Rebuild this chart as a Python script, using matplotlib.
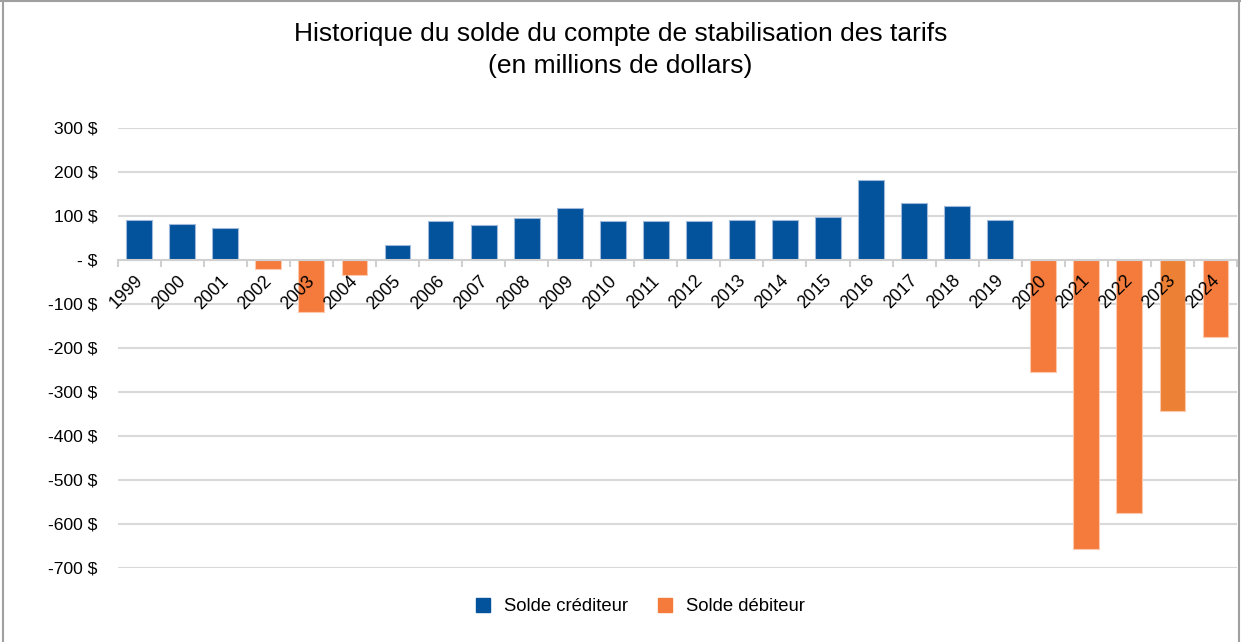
import matplotlib
matplotlib.use("Agg")
import matplotlib.pyplot as plt
from matplotlib.patches import Patch
from matplotlib.lines import Line2D
import matplotlib.transforms as mtransforms
import numpy as np

plt.rcParams['font.family'] = ['Liberation Sans', 'DejaVu Sans']

years = [str(y) for y in range(1999, 2025)]
values = [91, 81, 72, -22, -119, -35, 34, 88, 78, 95, 118, 88, 88, 88, 91, 91,
          98, 182, 129, 122, 91, -256, -658, -574, -343, -176]
yticks = [300, 200, 100, 0, -100, -200, -300, -400, -500, -600, -700]
ytick_labels = ["300 $", "200 $", "100 $", "- $", "-100 $", "-200 $", "-300 $",
                "-400 $", "-500 $", "-600 $", "-700 $"]
title = "Historique du solde du compte de stabilisation des tarifs\n(en millions de dollars)"
legend_labels = ["Solde créditeur", "Solde débiteur"]

blue = "#02529C"
orange = "#F57B3D"
orange2 = "#EC8034"

fig = plt.figure(figsize=(12.41, 6.42), dpi=100)
ax = fig.add_axes([0.0948, 0.1153, 0.9020, 0.6858])

x = np.arange(len(years))
colors = []
for i, v in enumerate(values):
    if v >= 0:
        colors.append(blue)
    elif years[i] == "2023":
        colors.append(orange2)
    else:
        colors.append(orange)
edges = ["#9FB9DA" if v >= 0 else "#FBC9AE" for v in values]
ax.bar(x, values, width=0.6, color=colors, edgecolor=edges, linewidth=0.8, zorder=1)

for t in yticks:
    if t != 0:
        ax.axhline(t, color="#D9D9D9", linewidth=1.5, zorder=0)

ax.set_xlim(-0.5, len(years) - 0.5)
ax.set_ylim(-700, 300)
ax.set_yticks(yticks)
ax.set_yticklabels(ytick_labels, fontsize=12.6)
ax.tick_params(axis='y', length=0, pad=14.5)

for s in ["top", "right", "left"]:
    ax.spines[s].set_visible(False)
ax.spines["bottom"].set_position(("data", 0))
ax.spines["bottom"].set_color("#D0D0D0")
ax.spines["bottom"].set_linewidth(1.5)

ax.set_xticks(x)
ax.set_xticklabels(years, rotation=45, ha="right", rotation_mode="anchor", fontsize=12.8)
ax.set_xticks(np.arange(len(years) + 1) - 0.5, minor=True)
ax.tick_params(axis='x', which='major', length=0, pad=9)
ax.tick_params(axis='x', which='minor', length=5, color="#D0D0D0", width=1.5, direction='out')
offset = mtransforms.ScaledTranslation(-5/100, 0, fig.dpi_scale_trans)
for lbl in ax.get_xticklabels():
    lbl.set_transform(lbl.get_transform() + offset)

fig.text(0.5, 0.966, title, ha="center", va="top", fontsize=19, linespacing=1.42)

handles = [Patch(facecolor=blue, edgecolor=blue), Patch(facecolor=orange, edgecolor=orange)]
fig.legend(handles, legend_labels, loc="center", bbox_to_anchor=(0.516, 0.055), ncol=2,
           frameon=False, fontsize=13.3, handlelength=0.8, handleheight=0.8,
           handletextpad=0.75, columnspacing=1.6)

bc = "#A0A0A0"
fig.add_artist(Line2D([0.0025, 0.0025], [0, 1], transform=fig.transFigure, color=bc, linewidth=1.5))
fig.add_artist(Line2D([0, 1], [0.998, 0.998], transform=fig.transFigure, color=bc, linewidth=1.5))
fig.add_artist(Line2D([0.998, 0.998], [0, 1], transform=fig.transFigure, color=bc, linewidth=1.5))

fig.savefig("out.png", dpi=100, facecolor="white")
